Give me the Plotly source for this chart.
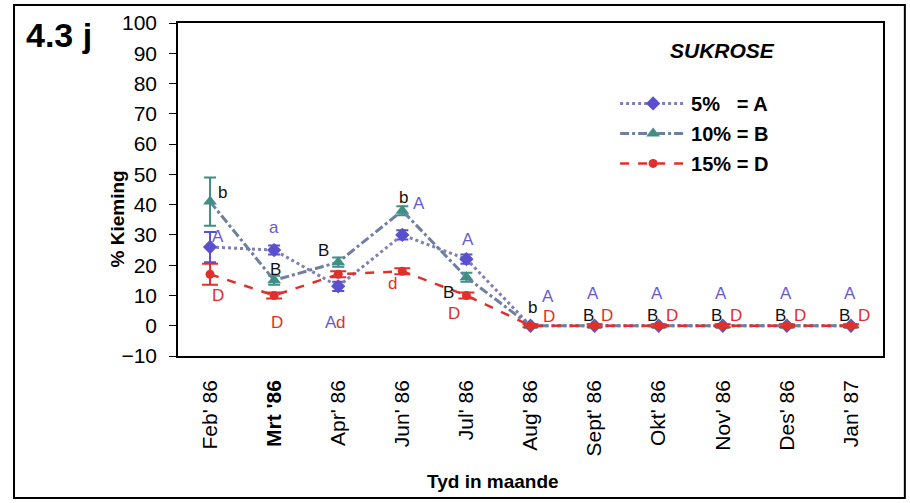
import plotly.graph_objects as go

months = ["Feb' 86", "Mrt '86", "Apr' 86", "Jun' 86", "Jul' 86", "Aug' 86",
          "Sept' 86", "Okt' 86", "Nov' 86", "Des' 86", "Jan' 87"]
suk5 = [26, 25, 13, 30, 22, 0, 0, 0, 0, 0, 0]
suk10 = [41, 15, 21, 38, 16, 0, 0, 0, 0, 0, 0]
suk15 = [17, 10, 17, 18, 10, 0, 0, 0, 0, 0, 0]
err5 = [5, 1.5, 1.5, 1.5, 1.5, 0.5, 0.5, 0.5, 0.5, 0.5, 0.5]
err10 = [8, 1.5, 1.5, 1.5, 1.5, 0.5, 0.5, 0.5, 0.5, 0.5, 0.5]
err15 = [3.5, 1, 1, 1, 1, 0.5, 0.5, 0.5, 0.5, 0.5, 0.5]

# significance letters: (month index, offset, value, text, group)
letters = [
    (0, 0.19, 44, "b", "B"), (0, 0.13, 29.5, "A", "A"), (0, 0.12, 10, "D", "D"),
    (1, 0.0, 32.5, "a", "A"), (1, 0.02, 18.5, "B", "B"), (1, 0.05, 1, "D", "D"),
    (2, -0.23, 25, "B", "B"), (2, -0.12, 1, "A", "A"), (2, 0.04, 1, "d", "D"),
    (3, 0.02, 42.5, "b", "B"), (3, 0.26, 40.5, "A", "A"), (3, -0.16, 14, "d", "D"),
    (4, 0.02, 28.5, "A", "A"), (4, -0.28, 11, "B", "B"), (4, -0.2, 4, "D", "D"),
    (5, 0.03, 6, "b", "B"), (5, 0.27, 9.5, "A", "A"), (5, 0.29, 3, "D", "D"),
]
for i in range(6, 11):
    letters += [(i, -0.02, 10.5, "A", "A"), (i, -0.1, 3.5, "B", "B"), (i, 0.2, 3.5, "D", "D")]

FONT = "Arial, Liberation Sans, sans-serif"
colA = "#5a4fcf"
colB = "#3f8f86"
colD = "#e0302c"
lcolor = {"A": "#6a5acd", "B": "#111111", "D": "#e0302c"}

ticktext = [("<b>%s</b>" % m) if m.startswith("Mrt") else m for m in months]

fig = go.Figure()
fig.add_trace(go.Scatter(
    x=months, y=suk5, name="<b>5%\u00a0\u00a0\u00a0= A</b>", mode="lines+markers",
    line=dict(color="#7f7fb8", width=3, dash="dot"),
    marker=dict(symbol="diamond", size=11, color=colA),
    error_y=dict(type="data", array=err5, color=colA, thickness=2, width=6),
    legendgroup="a"))
fig.add_trace(go.Scatter(
    x=months, y=suk10, name="<b>10% = B</b>", mode="lines+markers",
    line=dict(color="#6f7f9f", width=3, dash="dashdot"),
    marker=dict(symbol="triangle-up", size=12, color=colB),
    error_y=dict(type="data", array=err10, color=colB, thickness=2, width=6),
    legendgroup="b"))
fig.add_trace(go.Scatter(
    x=months, y=suk15, name="<b>15% = D</b>", mode="lines+markers",
    line=dict(color=colD, width=2.5, dash="dash"),
    marker=dict(symbol="circle", size=9, color=colD),
    error_y=dict(type="data", array=err15, color=colD, thickness=2, width=8),
    legendgroup="c"))

annotations = []
for idx, off, val, txt, grp in letters:
    annotations.append(dict(x=idx + off, y=val, xref="x", yref="y", text=txt,
                            showarrow=False, font=dict(size=17, color=lcolor[grp], family=FONT)))

annotations += [
    dict(x=-0.218, y=0.963, xref="paper", yref="paper", text="<b>4.3 j</b>", xanchor="left",
         yanchor="middle", showarrow=False, font=dict(size=34, color="black", family=FONT)),
    dict(x=0.772, y=0.916, xref="paper", yref="paper", text="<b><i>SUKROSE</i></b>", xanchor="center",
         yanchor="middle", showarrow=False, font=dict(size=21, color="black", family=FONT)),
    dict(x=-0.0865, y=0.41, xref="paper", yref="paper", text="<b>% Kieming</b>", textangle=-90,
         xanchor="center", yanchor="middle", showarrow=False, font=dict(size=19, color="black", family=FONT)),
    dict(x=0.447, y=-0.378, xref="paper", yref="paper", text="<b>Tyd in maande</b>",
         xanchor="center", yanchor="middle", showarrow=False, font=dict(size=19, color="black", family=FONT)),
]

fig.update_layout(
    width=910, height=503,
    margin=dict(l=178, r=27, t=23, b=147),
    paper_bgcolor="white", plot_bgcolor="white",
    font=dict(family=FONT, size=18, color="black"),
    showlegend=True,
    legend=dict(x=0.62, y=0.817, xanchor="left", yanchor="top", bgcolor="rgba(0,0,0,0)",
                font=dict(size=20, family=FONT, color="black"), itemwidth=66,
                tracegroupgap=1, traceorder="grouped"),
    annotations=annotations,
    shapes=[dict(type="rect", xref="paper", yref="paper", x0=-0.2326, x1=1.031, y0=-0.4264, y1=1.054,
                 line=dict(color="black", width=2))],
)
fig.update_xaxes(type="category", categoryorder="array", categoryarray=months,
                 tickvals=months, ticktext=ticktext,
                 range=[-0.5, 10.5], tickangle=-90, showline=True, linecolor="black", linewidth=1.5,
                 mirror=True, showgrid=False, zeroline=False, ticks="", ticklabelstandoff=14,
                 tickfont=dict(size=21, family=FONT))
fig.update_yaxes(range=[-10, 100], dtick=10, tick0=0, showline=True, linecolor="black", linewidth=1.5,
                 mirror=True, showgrid=False, zeroline=False, ticks="outside", ticklen=7,
                 tickcolor="black", ticklabelstandoff=8, tickfont=dict(size=21, family=FONT))

fig.write_html("out.html")
